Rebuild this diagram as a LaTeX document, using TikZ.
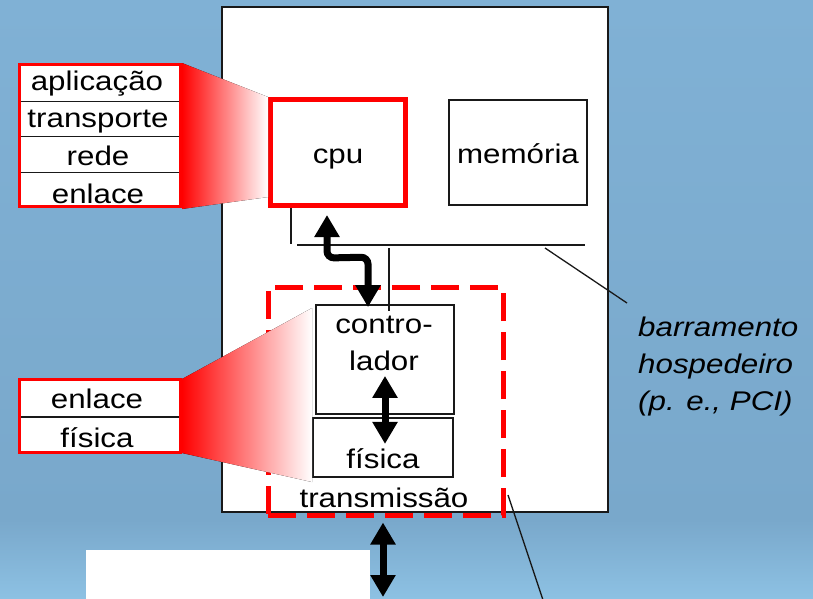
\documentclass[tikz,border=0pt]{standalone}
\usepackage{fontspec}
\setmainfont{Liberation Sans}
\usetikzlibrary{arrows.meta,calc}
\newcommand{\wt}[1]{\scalebox{1.16}[1]{#1}}
\definecolor{bgtop}{RGB}{128,177,213}
\definecolor{bgmid}{RGB}{121,168,203}
\definecolor{bgbot}{RGB}{141,193,227}
\definecolor{ln}{RGB}{25,25,25}
\begin{document}
\begin{tikzpicture}[x=1pt,y=-1pt,
  txt/.style={font=\fontsize{27}{32}\selectfont, inner sep=0pt, anchor=base},
  itxt/.style={font=\fontsize{27}{32}\selectfont\itshape, inner sep=0pt, anchor=base west},
  thinbox/.style={draw=ln, line width=1.8pt, fill=white, inner sep=0pt},
  cell/.style={draw=ln, line width=1.2pt, fill=white, inner sep=0pt, outer sep=0pt, minimum width=161pt},
  bigarrow/.style={draw=black, line width=7pt, {Triangle[length=22pt,width=24pt]}-{Triangle[length=22pt,width=24pt]}},
  leader/.style={draw=ln, line width=1.3pt},
  funnel/.style={left color=red, right color=white, draw=none},
]
\useasboundingbox (0,0) rectangle (813,598);
% background
\fill[top color=bgtop, bottom color=bgmid] (0,0) rectangle (813,520);
\fill[top color=bgmid, bottom color=bgbot] (0,520) rectangle (813,598);

% white block at the bottom
\node (cable) [fill=white, draw=none, inner sep=0pt, anchor=north west, minimum width=284pt, minimum height=50pt] at (86,550) {};

% host box
\node (host) [thinbox, anchor=north west, minimum width=386pt, minimum height=505pt] at (221,6) {};

% cpu and memory
\node (cpu) [draw=red, line width=5pt, fill=white, inner sep=0pt, minimum width=135pt, minimum height=106pt] at (338,152.5) {};
\node (cputxt) [txt] at (338,163) {\wt{cpu}};
\node (mem) [thinbox, minimum width=138pt, minimum height=105pt] at (518,152.5) {};
\node (memtxt) [txt] at (518,163) {\wt{memória}};

% bus
\coordinate (busL) at (297,245);
\coordinate (busR) at (585,245);
\draw[leader, line width=1.8pt] (busL) -- (busR);
\draw[leader, line width=1.8pt] ($(cpu.south west)+(23,0)$) -- ($(cpu.south west)+(23,36)$);
\draw[leader, line width=1.8pt] ($(mem.south)+(7,0)$) -- ($(mem.south)+(7,0)$ |- busR);

% controller and physical
\node (ctrl) [thinbox, minimum width=138pt, minimum height=109pt] at (385,359.5) {};
\node (ctrltxt1) [txt] at (384,333) {\wt{contro-}};
\node (ctrltxt2) [txt] at (384,370) {\wt{lador}};
\node (fis) [thinbox, minimum width=140pt, minimum height=59pt] at (383,447.5) {};
\node (fistxt) [txt] at (383,468) {\wt{física}};
\node (trtxt) [txt] at (384,507) {\wt{transmissão}};

% adapter (dashed)
\node (dash) [draw=red, line width=5pt, dash pattern=on 28pt off 11pt, inner sep=0pt, minimum width=235pt, minimum height=228pt] at (385.5,401) {};
\draw[leader, line width=1.8pt] ($(busL)+(92,3)$) -- ($(ctrl.north)+(4,7)$);

% upper stack and funnel
\fill[funnel] (182,63) -- (268,97) -- (268,197) -- (182,209) -- cycle;
\node (s1) [cell, minimum height=37pt, anchor=north west] at (19.5,64.5) {};
\node (s2) [cell, minimum height=35pt, anchor=north] at (s1.south) {};
\node (s3) [cell, minimum height=36pt, anchor=north] at (s2.south) {};
\node (s4) [cell, minimum height=34pt, anchor=north] at (s3.south) {};
\draw[red, line width=3pt] (s1.north west) rectangle (s4.south east);
\node (t1) [txt] at (97,90) {\wt{aplicação}};
\node (t2) [txt] at (98,127) {\wt{transporte}};
\node (t3) [txt] at (98,165) {\wt{rede}};
\node (t4) [txt] at (98,203) {\wt{enlace}};

% lower stack and funnel
\fill[funnel] (182,379) -- (312,308) -- (312,482) -- (182,453) -- cycle;
\node (u1) [cell, minimum height=37.5pt, anchor=north west] at (19.5,379.5) {};
\node (u2) [cell, minimum height=35pt, anchor=north] at (u1.south) {};
\draw[red, line width=3pt] (u1.north west) rectangle (u2.south east);
\node (v1) [txt] at (97,408) {\wt{enlace}};
\node (v2) [txt] at (97,447) {\wt{física}};

% arrows
\draw[bigarrow, rounded corners=7pt] ($(cpu.south)+(-11,7)$) -- ($(cpu.south)+(-11,50)$) -- ($(ctrl.north)+(-17,-47)$) -- ($(ctrl.north)+(-17,3)$);
\draw[bigarrow] ($(ctrl.south)+(0,-39)$) -- ($(ctrl.south)+(0,29)$);
\coordinate (linkend) at (383,597);
\draw[bigarrow] ($(dash.south)+(-2.5,5)$) -- (linkend);

% labels and leaders
\coordinate (busmark) at (545,248);
\coordinate (buslbl) at (627,303);
\draw[leader] (busmark) -- (buslbl);
\node (l1) [itxt] at (638,336) {\wt{barramento}};
\node (l2) [itxt] at (638,373) {\wt{hospedeiro}};
\node (l3) [itxt] at (638,410) {\wt{(p. e., PCI)}};
\coordinate (nicmark) at (508,495);
\coordinate (nicend) at (543,600);
\draw[leader] (nicmark) -- (nicend);
\end{tikzpicture}
\end{document}
